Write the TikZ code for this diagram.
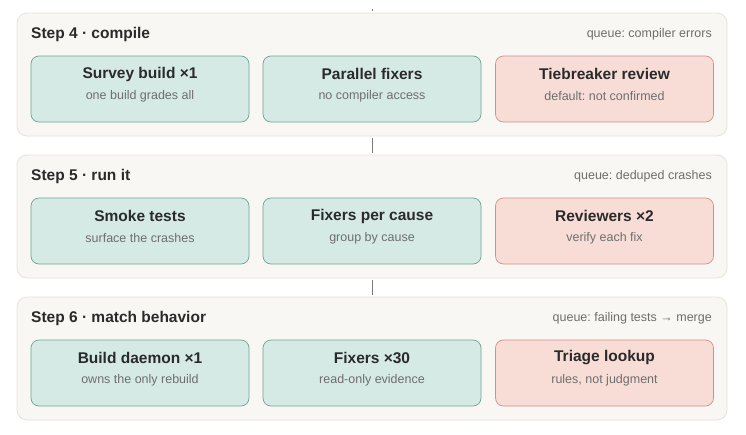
\documentclass[tikz,border=0pt]{standalone}
\usepackage{fontspec}
\setmainfont{Liberation Sans}
\usetikzlibrary{positioning}
\frenchspacing
\definecolor{panelfill}{HTML}{F8F7F3}
\definecolor{paneldraw}{HTML}{E6E3DB}
\definecolor{greenfill}{HTML}{D6EAE5}
\definecolor{greendraw}{HTML}{6FA395}
\definecolor{redfill}{HTML}{F8DDD7}
\definecolor{reddraw}{HTML}{D39086}
\definecolor{ink}{HTML}{2A2A2A}
\definecolor{subink}{HTML}{6E6E6E}
\definecolor{linkc}{HTML}{7A7A7A}
\tikzset{
  panel/.style={draw=paneldraw, fill=panelfill, rounded corners=10pt, line width=0.8pt,
    minimum width=710pt, minimum height=123pt, inner sep=0pt},
  cardg/.style={draw=greendraw, fill=greenfill, rounded corners=8pt, line width=0.7pt,
    minimum width=218pt, minimum height=66pt, inner sep=0pt},
  cardr/.style={cardg, draw=reddraw, fill=redfill},
  steptitle/.style={anchor=west, inner sep=0pt, text=ink, font=\fontsize{15.5}{18}\selectfont\bfseries},
  queuelbl/.style={anchor=east, inner sep=0pt, text=subink, font=\fontsize{12.5}{15}\selectfont},
  cardtitle/.style={inner sep=0pt, text=ink, font=\fontsize{15.5}{18}\selectfont\bfseries},
  cardsub/.style={inner sep=0pt, text=subink, font=\fontsize{12.5}{15}\selectfont},
  link/.style={draw=linkc, line width=0.9pt}
}
\newcommand{\stepcard}[6]{%
  % #1 name, #2 style, #3 x center, #4 y center, #5 title, #6 subtitle
  \node[#2] (#1) at (#3,#4) {};
  \node[cardtitle] (#1t) at (#3,#4-15) {#5};
  \node[cardsub] (#1s) at (#3,#4+7.5) {#6};
}
\begin{document}
\begin{tikzpicture}[x=1pt,y=-1pt]
\useasboundingbox[fill=white] (0,0) rectangle (746,434);
% top stub
\coordinate (t0) at (372,8.5);
\coordinate (t1) at (372,11);
\draw[link, line width=0.6pt] (t0) -- (t1);
% panels
\node[panel] (p4) at (372,74.5) {};
\node[panel] (p5) at (372,216.5) {};
\node[panel] (p6) at (372,358.5) {};
\draw[link] ([yshift=-2pt]p4.south) -- ([yshift=2pt]p5.north);
\draw[link] ([yshift=-2pt]p5.south) -- ([yshift=2pt]p6.north);
% step 4
\node[steptitle] (s4) at (31,34) {Step 4 · compile};
\node[queuelbl] (q4) at (712,34.5) {queue: compiler errors};
\stepcard{a4}{cardg}{140}{89}{Survey build ×1}{one build grades all}
\stepcard{b4}{cardg}{372}{89}{Parallel fixers}{no compiler access}
\stepcard{c4}{cardr}{604.5}{89}{Tiebreaker review}{default: not confirmed}
% step 5
\node[steptitle] (s5) at (31,176) {Step 5 · run it};
\node[queuelbl] (q5) at (712,176.5) {queue: deduped crashes};
\stepcard{a5}{cardg}{140}{231}{Smoke tests}{surface the crashes}
\stepcard{b5}{cardg}{372}{231}{Fixers per cause}{group by cause}
\stepcard{c5}{cardr}{604.5}{231}{Reviewers ×2}{verify each fix}
% step 6
\node[steptitle] (s6) at (31,318) {Step 6 · match behavior};
\node[queuelbl] (q6) at (712,318.5) {queue: failing tests → merge};
\stepcard{a6}{cardg}{140}{373}{Build daemon ×1}{owns the only rebuild}
\stepcard{b6}{cardg}{372}{373}{Fixers ×30}{read-only evidence}
\stepcard{c6}{cardr}{604.5}{373}{Triage lookup}{rules, not judgment}
\end{tikzpicture}
\end{document}
